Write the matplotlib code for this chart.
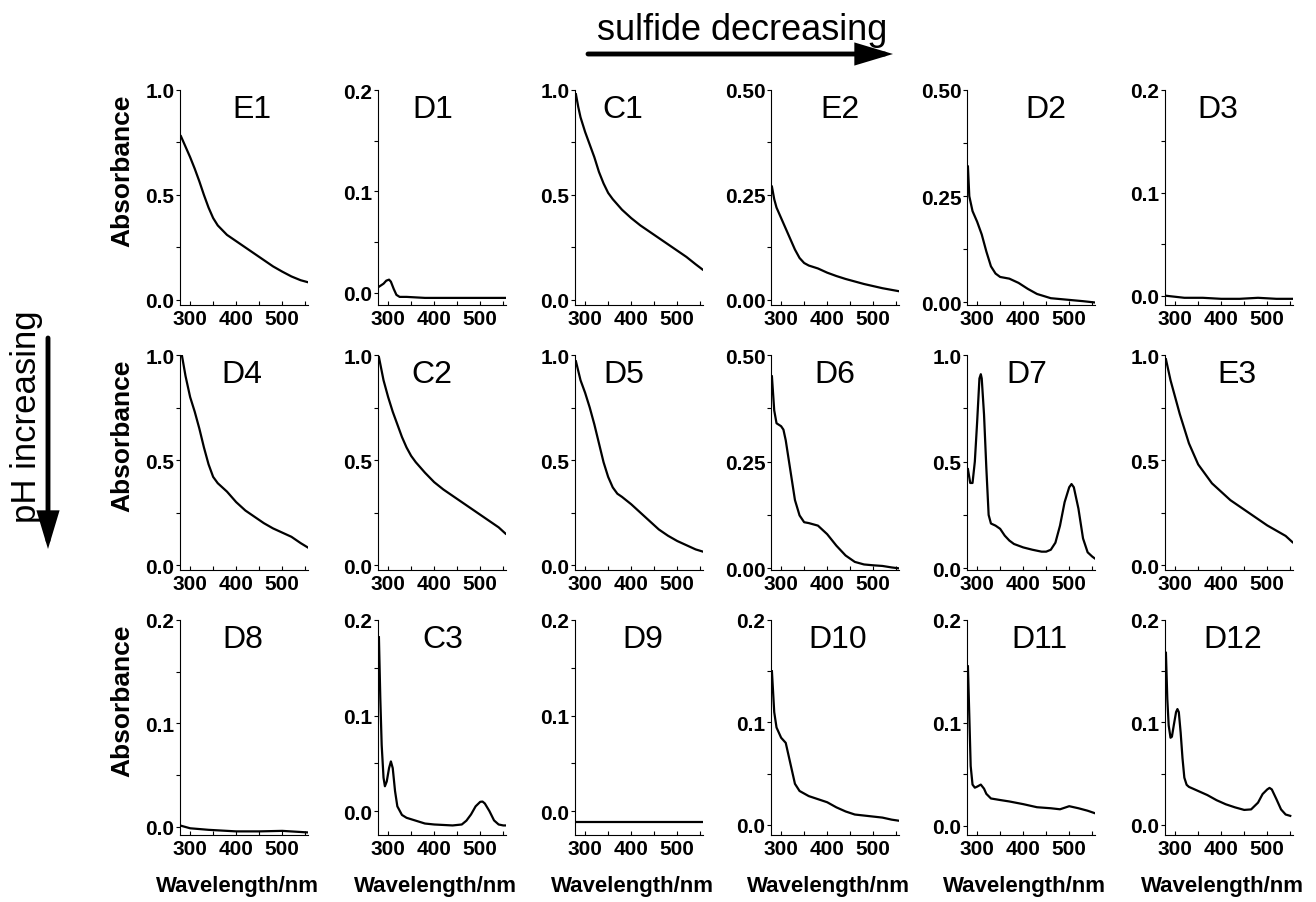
import matplotlib
matplotlib.use("Agg")
import matplotlib.pyplot as plt
from matplotlib.patches import FancyArrowPatch
from matplotlib.ticker import MultipleLocator, FormatStrFormatter

plt.rcParams['font.family'] = ['Liberation Sans', 'DejaVu Sans']

# UV-vis spectra, one panel per sample (wavelength in nm, absorbance)
names = ['E1', 'D1', 'C1', 'E2', 'D2', 'D3',
         'D4', 'C2', 'D5', 'D6', 'D7', 'E3',
         'D8', 'C3', 'D9', 'D10', 'D11', 'D12']

wl_E1 = [280, 290, 300, 310, 320, 330, 340, 350, 360, 380, 400, 420, 440, 460, 480, 500, 520, 540, 555]
ab_E1 = [0.78, 0.73, 0.68, 0.625, 0.565, 0.50, 0.44, 0.39, 0.355, 0.31, 0.28, 0.25, 0.22, 0.19, 0.16, 0.135, 0.112, 0.094, 0.085]

wl_D1 = [280, 290, 296, 302, 306, 312, 318, 325, 340, 380, 420, 460, 500, 540, 555]
ab_D1 = [0.006, 0.009, 0.012, 0.013, 0.011, 0.004, -0.002, -0.004, -0.004, -0.005, -0.005, -0.005, -0.005, -0.005, -0.005]

wl_C1 = [280, 285, 290, 300, 310, 320, 330, 340, 350, 360, 380, 400, 420, 440, 460, 480, 500, 520, 540, 555]
ab_C1 = [0.98, 0.92, 0.87, 0.80, 0.74, 0.68, 0.61, 0.555, 0.51, 0.48, 0.43, 0.39, 0.355, 0.325, 0.295, 0.265, 0.235, 0.205, 0.17, 0.145]

wl_E2 = [280, 285, 290, 300, 310, 320, 330, 340, 350, 360, 380, 400, 420, 440, 460, 480, 500, 520, 540, 555]
ab_E2 = [0.27, 0.24, 0.22, 0.195, 0.17, 0.145, 0.12, 0.1, 0.088, 0.082, 0.075, 0.065, 0.057, 0.05, 0.044, 0.038, 0.033, 0.028, 0.024, 0.021]

wl_D2 = [280, 283, 290, 300, 310, 320, 330, 340, 350, 370, 390, 410, 430, 460, 500, 530, 555]
ab_D2 = [0.32, 0.25, 0.215, 0.19, 0.16, 0.12, 0.085, 0.068, 0.06, 0.056, 0.046, 0.032, 0.02, 0.01, 0.006, 0.003, 0.0]

wl_D3 = [280, 320, 360, 400, 440, 480, 520, 555]
ab_D3 = [0.0, -0.002, -0.002, -0.003, -0.003, -0.002, -0.003, -0.003]

wl_D4 = [282, 290, 300, 310, 320, 330, 340, 350, 360, 370, 380, 400, 420, 440, 460, 480, 500, 520, 540, 555]
ab_D4 = [1.0, 0.9, 0.8, 0.73, 0.65, 0.56, 0.48, 0.42, 0.39, 0.37, 0.35, 0.3, 0.26, 0.23, 0.2, 0.175, 0.155, 0.135, 0.105, 0.085]

wl_C2 = [280, 290, 300, 310, 320, 330, 340, 350, 360, 380, 400, 420, 440, 460, 480, 500, 520, 540, 555]
ab_C2 = [0.99, 0.88, 0.8, 0.73, 0.67, 0.61, 0.56, 0.52, 0.49, 0.44, 0.395, 0.36, 0.33, 0.3, 0.27, 0.24, 0.21, 0.18, 0.15]

wl_D5 = [280, 290, 300, 310, 320, 330, 340, 350, 360, 370, 380, 400, 420, 440, 460, 480, 500, 520, 540, 555]
ab_D5 = [0.97, 0.88, 0.82, 0.75, 0.67, 0.58, 0.49, 0.42, 0.37, 0.34, 0.325, 0.29, 0.25, 0.21, 0.17, 0.14, 0.115, 0.095, 0.075, 0.065]

wl_D6 = [280, 285, 290, 300, 305, 310, 320, 330, 340, 350, 360, 380, 400, 420, 440, 460, 480, 500, 520, 540, 555]
ab_D6 = [0.45, 0.37, 0.34, 0.333, 0.325, 0.30, 0.23, 0.16, 0.124, 0.108, 0.106, 0.10, 0.08, 0.053, 0.03, 0.015, 0.009, 0.007, 0.0055, 0.002, 0.0]

wl_D7 = [280, 285, 290, 295, 300, 305, 308, 310, 315, 320, 325, 330, 340, 350, 360, 370, 380, 400, 420, 440, 450,
         460, 470, 480, 490, 500, 505, 510, 520, 530, 540, 550, 555]
ab_D7 = [0.465, 0.40, 0.40, 0.50, 0.685, 0.89, 0.91, 0.89, 0.72, 0.47, 0.25, 0.21, 0.20, 0.185, 0.153, 0.13, 0.114,
         0.098, 0.087, 0.078, 0.078, 0.087, 0.12, 0.20, 0.31, 0.38, 0.395, 0.38, 0.28, 0.14, 0.075, 0.055, 0.047]

wl_E3 = [280, 290, 300, 310, 320, 330, 340, 350, 360, 380, 400, 420, 440, 460, 480, 500, 520, 540, 555]
ab_E3 = [0.98, 0.88, 0.8, 0.72, 0.65, 0.58, 0.53, 0.48, 0.45, 0.39, 0.35, 0.31, 0.28, 0.25, 0.22, 0.19, 0.165, 0.14, 0.11]

wl_D8 = [280, 300, 340, 400, 450, 500, 555]
ab_D8 = [0.001, -0.0015, -0.003, -0.0045, -0.0045, -0.004, -0.0055]

wl_C3 = [280, 283, 286, 290, 293, 297, 302, 306, 310, 315, 320, 330, 340, 360, 380, 400, 440, 460, 470, 480, 490,
         500, 505, 510, 520, 530, 540, 550, 555]
ab_C3 = [0.182, 0.118, 0.069, 0.035, 0.026, 0.031, 0.045, 0.052, 0.045, 0.021, 0.005, -0.004, -0.007, -0.010,
         -0.013, -0.014, -0.015, -0.014, -0.010, -0.0035, 0.005, 0.0097, 0.010, 0.008, 0.0, -0.0097, -0.014, -0.015, -0.015]

wl_D9 = [280, 340, 400, 460, 520, 555]
ab_D9 = [-0.011, -0.011, -0.011, -0.011, -0.011, -0.011]

wl_D10 = [280, 285, 290, 300, 310, 320, 330, 340, 360, 380, 400, 420, 440, 460, 480, 500, 520, 540, 555]
ab_D10 = [0.15, 0.11, 0.095, 0.085, 0.08, 0.06, 0.04, 0.033, 0.028, 0.025, 0.022, 0.017, 0.013, 0.01, 0.009, 0.008, 0.007, 0.005, 0.004]

wl_D11 = [280, 283, 286, 290, 295, 300, 308, 315, 320, 330, 350, 370, 400, 430, 460, 480, 500, 520, 540, 555]
ab_D11 = [0.155, 0.107, 0.058, 0.04, 0.037, 0.038, 0.04, 0.036, 0.031, 0.0265, 0.025, 0.0236, 0.021, 0.018, 0.017, 0.016, 0.019, 0.017, 0.0146, 0.0123]

wl_D12 = [280, 283, 286, 290, 293, 297, 302, 305, 308, 312, 316, 320, 325, 330, 350, 370, 390, 410, 430, 450, 465,
          480, 490, 500, 505, 510, 520, 530, 540, 550]
ab_D12 = [0.168, 0.123, 0.097, 0.085, 0.086, 0.097, 0.11, 0.113, 0.11, 0.09, 0.065, 0.046, 0.039, 0.037, 0.033,
          0.029, 0.024, 0.020, 0.017, 0.0145, 0.015, 0.0216, 0.030, 0.0345, 0.036, 0.0345, 0.025, 0.015, 0.010, 0.0087]

wavelengths = [wl_E1, wl_D1, wl_C1, wl_E2, wl_D2, wl_D3,
               wl_D4, wl_C2, wl_D5, wl_D6, wl_D7, wl_E3,
               wl_D8, wl_C3, wl_D9, wl_D10, wl_D11, wl_D12]
absorbances = [ab_E1, ab_D1, ab_C1, ab_E2, ab_D2, ab_D3,
               ab_D4, ab_C2, ab_D5, ab_D6, ab_D7, ab_E3,
               ab_D8, ab_C3, ab_D9, ab_D10, ab_D11, ab_D12]

# y axis top and bottom for each panel
y_top = [1.0, 0.2, 1.0, 0.5, 0.5, 0.2,
         1.0, 1.0, 1.0, 0.5, 1.0, 1.0,
         0.2, 0.2, 0.2, 0.2, 0.2, 0.2]
y_bottom = [-0.024, -0.012, -0.024, -0.012, -0.006, -0.009,
            -0.023, -0.023, -0.023, -0.004, -0.008, -0.022,
            -0.008, -0.025, -0.025, -0.010, -0.009, -0.010]

# panel label x position inside each axes
title_x = [0.56, 0.43, 0.37, 0.54, 0.62, 0.41,
           0.48, 0.42, 0.38, 0.50, 0.47, 0.56,
           0.49, 0.51, 0.53, 0.52, 0.57, 0.53]

W, H = 1316, 903
fig = plt.figure(figsize=(W / 100, H / 100), dpi=100)

col_left = [180, 378, 575, 771, 967, 1165]
row_top = [91, 356, 621]
ax_w, ax_h = 128, 215

for i, name in enumerate(names):
    r, c = divmod(i, 6)
    ax = fig.add_axes([col_left[c] / W, 1 - (row_top[r] + ax_h) / H, ax_w / W, ax_h / H])
    ax.plot(wavelengths[i], absorbances[i], color='black', lw=1.6)
    ax.set_xlim(278, 556)
    ax.set_ylim(y_bottom[i], y_top[i])

    for side in ['top', 'right']:
        ax.spines[side].set_visible(False)
    for side in ['left', 'bottom']:
        ax.spines[side].set_linewidth(0.8)

    ax.xaxis.set_major_locator(MultipleLocator(100))
    ax.xaxis.set_minor_locator(MultipleLocator(50))
    ax.yaxis.set_major_locator(MultipleLocator(y_top[i] / 2))
    ax.yaxis.set_minor_locator(MultipleLocator(y_top[i] / 4))
    ax.yaxis.set_major_formatter(FormatStrFormatter('%.2f' if y_top[i] == 0.5 else '%.1f'))

    ax.tick_params(axis='x', which='both', direction='in', length=3, width=0.8, pad=3)
    ax.tick_params(axis='y', which='both', direction='out', length=3, width=0.8, pad=1)
    for lab in ax.get_xticklabels() + ax.get_yticklabels():
        lab.set_fontsize(15)
        lab.set_fontweight('bold')

    ax.text(title_x[i], 0.91, name, transform=ax.transAxes, ha='center', va='center', fontsize=23)

    if c == 0:
        ax.set_ylabel('Absorbance', fontsize=19, fontweight='bold')
        ax.yaxis.set_label_coords(-0.36, 0.63)
    if r == 2:
        ax.set_xlabel('Wavelength/nm', fontsize=16, fontweight='bold')
        ax.xaxis.set_label_coords(0.45, -0.185)

# direction arrows along the grid
arrow_style = '-|>,head_length=1.0,head_width=0.3'

fig.text(742 / W, 1 - 30 / H, 'sulfide decreasing', ha='center', va='center', fontsize=26)
fig.add_artist(FancyArrowPatch((588 / W, 1 - 55 / H), (893 / W, 1 - 55 / H),
                               transform=fig.transFigure, arrowstyle=arrow_style,
                               mutation_scale=20, lw=3.5, color='black', shrinkA=0, shrinkB=0,
                               joinstyle='miter'))

fig.text(27 / W, 1 - 417 / H, 'pH increasing', ha='center', va='center', rotation=90, fontsize=25)
fig.add_artist(FancyArrowPatch((48 / W, 1 - 339 / H), (48 / W, 1 - 550 / H),
                               transform=fig.transFigure, arrowstyle=arrow_style,
                               mutation_scale=20, lw=3.5, color='black', shrinkA=0, shrinkB=0,
                               joinstyle='miter'))

fig.savefig('out.png', dpi=100)
